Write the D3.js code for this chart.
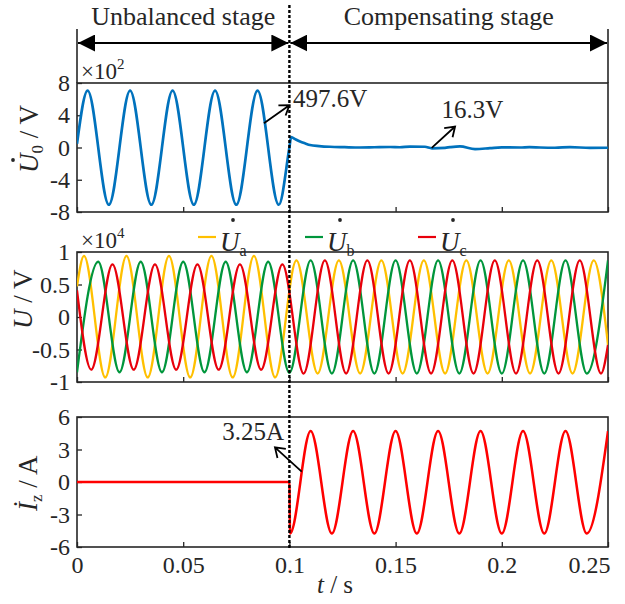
<!DOCTYPE html>
<html>
<head>
<meta charset="utf-8">
</head>
<body style="margin:0">
<script src="https://d3js.org/d3.v7.min.js"></script>
<script>

var width = 625,
    height = 604;

// x axis
var timeTicks = [0, 0.05, 0.1, 0.15, 0.2, 0.25];
var timeLabels = ["0", "0.05", "0.1", "0.15", "0.2", "0.25"];
var stageNames = ["Unbalanced stage", "Compensating stage"];
var stageBounds = [0, 0.1, 0.25];

// y ticks
var u0Ticks = [-8, -4, 0, 4, 8];
var uTicks = [-1, -0.5, 0, 0.5, 1];
var izTicks = [-6, -3, 0, 3, 6];

// zero-sequence voltage, x10^2 V  [t, value] (peaks / troughs)
var u0 = [[0, 0.45], [0.005, 7.05], [0.015, -7.1], [0.025, 7.05], [0.035, -7.1], [0.045, 7.05],
  [0.055, -7.1], [0.065, 7.05], [0.075, -7.1], [0.085, 7.05], [0.095, -7.1], [0.1, 0],
  [0.1008, 1.28], [0.103, 1.0], [0.105, 0.74], [0.1075, 0.5], [0.1097, 0.31], [0.114, 0.18],
  [0.1191, 0.09], [0.126, 0.04], [0.1332, 0.0], [0.14, 0.03], [0.1474, 0.06], [0.152, 0.03],
  [0.1568, 0.12], [0.1638, 0.09], [0.1671, -0.1], [0.1733, -0.04], [0.1756, 0.04], [0.1803, 0.14],
  [0.1874, -0.19], [0.1944, -0.08], [0.2, 0.02], [0.2086, 0.0], [0.213, 0.05], [0.218, 0.0],
  [0.225, -0.03], [0.2321, 0.04], [0.2415, -0.04], [0.25, -0.03]];

// phase voltages, x10^4 V
var ua = [[0, 0.47], [0.0033, 0.94], [0.0133, -0.93], [0.0233, 0.94], [0.0333, -0.93], [0.0433, 0.94],
  [0.0533, -0.93], [0.0633, 0.94], [0.0733, -0.93], [0.0833, 0.94], [0.0933, -0.93], [0.1033, 0.87],
  [0.1133, -0.87], [0.1233, 0.87], [0.1333, -0.87], [0.1433, 0.87], [0.1533, -0.87], [0.1633, 0.87],
  [0.1733, -0.87], [0.1833, 0.87], [0.1933, -0.87], [0.2033, 0.87], [0.2133, -0.87], [0.2233, 0.87],
  [0.2333, -0.87], [0.2433, 0.87], [0.25, -0.43]];
var ub = [[0, -0.85], [0.01, 0.85], [0.02, -0.85], [0.03, 0.85], [0.04, -0.85], [0.05, 0.85],
  [0.06, -0.85], [0.07, 0.85], [0.08, -0.85], [0.09, 0.85], [0.1, -0.86], [0.11, 0.87],
  [0.12, -0.87], [0.13, 0.87], [0.14, -0.87], [0.15, 0.87], [0.16, -0.87], [0.17, 0.87],
  [0.18, -0.87], [0.19, 0.87], [0.2, -0.87], [0.21, 0.87], [0.22, -0.87], [0.23, 0.87],
  [0.24, -0.87], [0.25, 0.87]];
var uc = [[0, 0.41], [0.0067, -0.81], [0.0167, 0.81], [0.0267, -0.81], [0.0367, 0.81], [0.0467, -0.81],
  [0.0567, 0.81], [0.0667, -0.81], [0.0767, 0.81], [0.0867, -0.81], [0.0967, 0.81], [0.1067, -0.87],
  [0.1167, 0.87], [0.1267, -0.87], [0.1367, 0.87], [0.1467, -0.87], [0.1567, 0.87], [0.1667, -0.87],
  [0.1767, 0.87], [0.1867, -0.87], [0.1967, 0.87], [0.2067, -0.87], [0.2167, 0.87], [0.2267, -0.87],
  [0.2367, 0.87], [0.2467, -0.87], [0.25, -0.43]];

// injected current, A
var iz = [[0, 0], [0.1, 0], [0.1003, -4.75], [0.11, 4.7], [0.12, -4.75], [0.13, 4.7], [0.14, -4.75],
  [0.15, 4.7], [0.16, -4.75], [0.17, 4.7], [0.18, -4.75], [0.19, 4.7], [0.2, -4.75], [0.21, 4.7],
  [0.22, -4.75], [0.23, 4.7], [0.24, -4.75], [0.25, 4.7]];

var legendNames = ["a", "b", "c"];
var phaseColors = ["#FFC000", "#00963C", "#E8000B"];

var axisColor = "#262626";
var serif = "'Times New Roman'";

var x = d3.scaleLinear().domain([0, 0.25]).range([77, 608]);

var panels = [
  {id: "p1", y: d3.scaleLinear().domain([-8, 8]).range([212, 83]), ticks: u0Ticks},
  {id: "p2", y: d3.scaleLinear().domain([-1, 1]).range([382, 252]), ticks: uTicks},
  {id: "p3", y: d3.scaleLinear().domain([-6, 6]).range([547, 417]), ticks: izTicks}
];

var svg = d3.select("body").append("svg")
    .attr("width", width)
    .attr("height", height);

var hyphen = function(d) { return String(d).replace("\u2212", "-"); };

function txt(parent) {
  return parent.append("text")
    .style("font-family", serif)
    .attr("fill", axisColor);
}

panels.forEach(function(p, i) {
  var y = p.y;
  svg.append("clipPath").attr("id", "clip" + p.id)
    .append("rect")
    .attr("x", x.range()[0]).attr("y", y.range()[1])
    .attr("width", x.range()[1] - x.range()[0])
    .attr("height", y.range()[0] - y.range()[1]);

  var ya = svg.append("g")
      .attr("transform", "translate(" + x.range()[0] + ",0)")
      .call(d3.axisLeft(y).tickValues(p.ticks).tickSize(-5).tickPadding(7).tickFormat(hyphen));
  var xa = svg.append("g")
      .attr("transform", "translate(0," + y.range()[0] + ")")
      .call(d3.axisBottom(x).tickValues(timeTicks).tickSize(-5).tickPadding(9)
        .tickFormat(function(d, j) { return i == 2 ? timeLabels[j] : ""; }));
  [ya, xa].forEach(function(a) {
    a.attr("font-family", null).attr("font-size", 24);
    a.select(".domain").remove();
    a.selectAll("line").attr("stroke", axisColor).attr("stroke-width", 1.3);
    a.selectAll("text").attr("fill", axisColor).style("font-family", serif);
  });
  if (i == 2) {
    xa.selectAll("text").filter(function(d) { return d == 0.25; })
      .attr("text-anchor", "end").attr("dx", 2);
  }
  svg.append("rect")
    .attr("x", x.range()[0]).attr("y", y.range()[1])
    .attr("width", x.range()[1] - x.range()[0])
    .attr("height", y.range()[0] - y.range()[1])
    .attr("fill", "none").attr("stroke", axisColor).attr("stroke-width", 1.6);
  p.plot = svg.append("g").attr("clip-path", "url(#clip" + p.id + ")");
});

function waveLine(y) {
  return d3.line()
    .x(function(d) { return x(d[0]); })
    .y(function(d) { return y(d[1]); })
    .curve(d3.curveMonotoneX);
}

panels[0].plot.append("path")
  .attr("d", waveLine(panels[0].y)(u0))
  .attr("fill", "none").attr("stroke", "#0072BD").attr("stroke-width", 2.7);

[ua, ub, uc].forEach(function(s, k) {
  panels[1].plot.append("path")
    .attr("d", waveLine(panels[1].y)(s))
    .attr("fill", "none").attr("stroke", phaseColors[k]).attr("stroke-width", 2.3);
});

panels[2].plot.append("path")
  .attr("d", waveLine(panels[2].y)(iz))
  .attr("fill", "none").attr("stroke", "#FF0000").attr("stroke-width", 2.5);

// y labels (rotated); text starts at x0, italic U is ~0.72 em wide
var yLabels = [
  {bx: 38, cy: 137, x0: -36, main: "U", sub: "0", rest: " / V", dot: true},
  {bx: 32, cy: 295, x0: -34, main: "U", sub: "", rest: " / V", dot: false},
  {bx: 37, cy: 478, x0: -33, main: "\u0130", sub: "z", rest: " / A", dot: false}
];
yLabels.forEach(function(l) {
  var g = svg.append("g").attr("transform", "translate(" + l.bx + "," + l.cy + ") rotate(-90)");
  var t = txt(g).attr("x", l.x0).attr("y", 0).attr("font-size", 27);
  t.append("tspan").attr("font-style", "italic").text(l.main);
  if (l.sub) t.append("tspan").attr("font-size", 17).attr("dy", 5).text(l.sub);
  t.append("tspan").attr("dy", l.sub ? -5 : 0).text(l.rest);
  if (l.dot) {
    g.append("circle").attr("cx", l.x0 + 13).attr("cy", -25)
      .attr("r", 1.9).attr("fill", axisColor);
  }
});

// x label
var xl = txt(svg)
  .attr("x", 335).attr("y", 593)
  .attr("text-anchor", "middle").attr("font-size", 25);
xl.append("tspan").attr("font-style", "italic").text("t");
xl.append("tspan").text(" / s");

// scale factors
[{p: 0, e: "2"}, {p: 1, e: "4"}].forEach(function(s) {
  var t = txt(svg)
    .attr("x", 81).attr("y", panels[s.p].y.range()[1] - 4)
    .attr("font-size", 23);
  t.append("tspan").text("\u00d710");
  t.append("tspan").attr("font-size", 15).attr("dy", -10).text(s.e);
});

// legend
var legendX = [198, 305, 418];
legendNames.forEach(function(n, k) {
  svg.append("line")
    .attr("x1", legendX[k]).attr("x2", legendX[k] + 18)
    .attr("y1", 237).attr("y2", 237)
    .attr("stroke", phaseColors[k]).attr("stroke-width", 2.2);
  var t = txt(svg)
    .attr("x", legendX[k] + 22).attr("y", 251)
    .attr("font-size", 27);
  t.append("tspan").attr("font-style", "italic").text("U");
  t.append("tspan").attr("font-size", 16).attr("dy", 5).text(n);
  svg.append("circle").attr("cx", legendX[k] + 35).attr("cy", 220)
    .attr("r", 1.9).attr("fill", axisColor);
});

// stages on top
var arrowY = 43;
svg.append("defs").selectAll("marker")
  .data(["fillArrow"]).enter().append("marker")
  .attr("id", function(d) { return d; })
  .attr("viewBox", "0 -5 10 10")
  .attr("refX", 10).attr("refY", 0)
  .attr("markerWidth", 17).attr("markerHeight", 17)
  .attr("markerUnits", "userSpaceOnUse")
  .attr("orient", "auto-start-reverse")
  .append("path").attr("d", "M0,-5L10,0L0,5Z").attr("fill", "#000");

stageNames.forEach(function(n, k) {
  var a = x(stageBounds[k]), b = x(stageBounds[k + 1]);
  svg.append("line")
    .attr("x1", a + 1).attr("x2", b - 1)
    .attr("y1", arrowY).attr("y2", arrowY)
    .attr("stroke", "#000").attr("stroke-width", 1.8)
    .attr("marker-start", "url(#fillArrow)")
    .attr("marker-end", "url(#fillArrow)");
  txt(svg)
    .attr("x", (a + b) / 2).attr("y", 25)
    .attr("text-anchor", "middle").attr("font-size", 26)
    .text(n);
});
[0, 0.25].forEach(function(t) {
  svg.append("line")
    .attr("x1", x(t)).attr("x2", x(t))
    .attr("y1", 29).attr("y2", panels[0].y.range()[1])
    .attr("stroke", axisColor).attr("stroke-width", 1.6);
});

// annotations: [from], [to] in data units, text anchor point
var notes = [
  {p: 0, label: "497.6V", from: [0.088, 3.0], to: [0.1, 5.25], at: [0.1017, 5.0], anchor: "start"},
  {p: 0, label: "16.3V", from: [0.167, -0.05], to: [0.178, 2.6], at: [0.1716, 3.7], anchor: "start"},
  {p: 2, label: "3.25A", from: [0.1058, 0.95], to: [0.0932, 3.2], at: [0.0975, 3.9], anchor: "end"}
];
notes.forEach(function(n) {
  var y = panels[n.p].y;
  var x1 = x(n.from[0]), y1 = y(n.from[1]), x2 = x(n.to[0]), y2 = y(n.to[1]);
  var ang = Math.atan2(y2 - y1, x2 - x1), L = 11;
  svg.append("path")
    .attr("d", "M" + x1 + "," + y1 + "L" + x2 + "," + y2 +
      "M" + (x2 - L * Math.cos(ang - 0.6)) + "," + (y2 - L * Math.sin(ang - 0.6)) +
      "L" + x2 + "," + y2 +
      "L" + (x2 - L * Math.cos(ang + 0.6)) + "," + (y2 - L * Math.sin(ang + 0.6)))
    .attr("fill", "none").attr("stroke", "#000").attr("stroke-width", 1.8);
  txt(svg)
    .attr("x", x(n.at[0])).attr("y", y(n.at[1]))
    .attr("text-anchor", n.anchor).attr("font-size", 25)
    .text(n.label);
});

// switching instant
svg.append("line")
  .attr("x1", x(0.1)).attr("x2", x(0.1))
  .attr("y1", 5).attr("y2", panels[2].y.range()[0] + 1)
  .attr("stroke", "#000").attr("stroke-width", 2.4)
  .attr("stroke-dasharray", "3,2");

</script>
</body>
</html>
